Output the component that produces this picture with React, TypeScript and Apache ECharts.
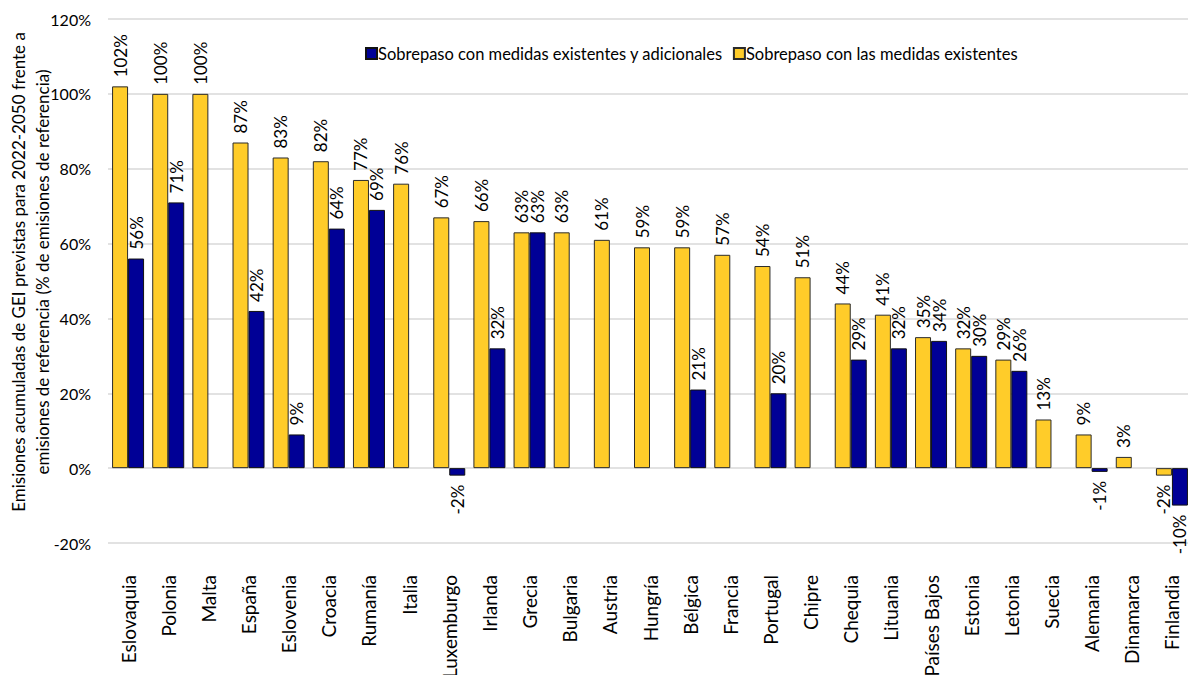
import React, { useEffect, useRef } from "react";
import * as echarts from "echarts";

// Países, de mayor a menor sobrepaso con las medidas existentes
const categories = [
  "Eslovaquia", "Polonia", "Malta", "España", "Eslovenia", "Croacia", "Rumanía",
  "Italia", "Luxemburgo", "Irlanda", "Grecia", "Bulgaria", "Austria", "Hungría",
  "Bélgica", "Francia", "Portugal", "Chipre", "Chequia", "Lituania", "Países Bajos",
  "Estonia", "Letonia", "Suecia", "Alemania", "Dinamarca", "Finlandia",
];

// Sobrepaso con las medidas existentes (%)
const existentes = [
  102, 100, 100, 87, 83, 82, 77, 76, 67, 66, 63, 63, 61, 59, 59, 57, 54, 51, 44, 41,
  35, 32, 29, 13, 9, 3, -2,
];

// Sobrepaso con medidas existentes y adicionales (%); null = sin dato
const adicionales: (number | null)[] = [
  56, 71, null, 42, 9, 64, 69, null, -2, 32, 63, null, null, null, 21, null, 20, null,
  29, 32, 34, 30, 26, null, -1, null, -10,
];

const yTicks = { min: -20, max: 120, interval: 20 };

const SERIES_EXIST = "Sobrepaso con las medidas existentes";
const SERIES_ADIC = "Sobrepaso con medidas existentes y adicionales";

const FONT = "Lato, 'Noto Sans', sans-serif";

function toBarData(values: (number | null)[]) {
  return values.map((v) => {
    if (v === null) return null;
    if (v < 0) {
      return {
        value: v,
        label: { position: "bottom", align: "right", verticalAlign: "middle" },
      };
    }
    return v;
  });
}

const valueLabel = {
  show: true,
  position: "top",
  rotate: 90,
  align: "left",
  verticalAlign: "middle",
  distance: 9,
  formatter: "{c}%",
  fontFamily: FONT,
  fontSize: 17,
  color: "#000",
};

export default function App() {
  const ref = useRef<HTMLDivElement>(null);

  useEffect(() => {
    if (!ref.current) return;
    const chart = echarts.init(ref.current, null, { renderer: "svg" });
    chart.setOption({
      animation: false,
      backgroundColor: "#fff",
      textStyle: { fontFamily: FONT },
      grid: {
        left: 108,
        top: 19,
        width: 1084,
        height: 524,
        containLabel: false,
        outerBoundsMode: "none",
      },
      legend: {
        data: [SERIES_ADIC, SERIES_EXIST],
        left: 360,
        top: 40,
        itemWidth: 11,
        itemHeight: 11,
        itemGap: 10,
        icon: "rect",
        textStyle: { fontFamily: FONT, fontSize: 16.5, color: "#000", padding: [0, 0, 0, -4] },
      },
      graphic: [
        {
          type: "text",
          x: 30,
          y: 272,
          rotation: Math.PI / 2,
          style: {
            text:
              "Emisiones acumuladas de GEI previstas para 2022-2050 frente a\nemisiones de referencia (% de emisiones de referencia)",
            fontFamily: FONT,
            fontSize: 17,
            lineHeight: 24,
            fill: "#000",
            align: "center",
            verticalAlign: "middle",
          },
        },
      ],
      xAxis: {
        type: "category",
        data: categories,
        axisLine: { show: false, onZero: false },
        axisTick: { show: false },
        axisLabel: {
          rotate: 90,
          interval: 0,
          margin: 32,
          fontFamily: FONT,
          fontSize: 19,
          color: "#000",
        },
      },
      yAxis: {
        type: "value",
        min: yTicks.min,
        max: yTicks.max,
        interval: yTicks.interval,
        axisLine: { show: false },
        axisTick: { show: false },
        axisLabel: {
          formatter: "{value}%",
          margin: 17,
          fontFamily: FONT,
          fontSize: 16,
          color: "#000",
        },
        splitLine: { lineStyle: { color: "#d9d9d9", width: 1.5 } },
      },
      series: [
        {
          name: SERIES_EXIST,
          type: "bar",
          data: toBarData(existentes),
          barWidth: 16,
          barGap: "0%",
          itemStyle: { color: "#FFCC29", borderColor: "#2b2b2b", borderWidth: 1 },
          label: valueLabel,
        },
        {
          name: SERIES_ADIC,
          type: "bar",
          data: toBarData(adicionales),
          barWidth: 16,
          barGap: "0%",
          itemStyle: { color: "#000096", borderColor: "#111", borderWidth: 1 },
          label: valueLabel,
        },
      ],
    });
    return () => chart.dispose();
  }, []);

  return (
    <div
      ref={ref}
      style={{ position: "fixed", left: 0, top: 0, width: 1188, height: 675 }}
    />
  );
}
